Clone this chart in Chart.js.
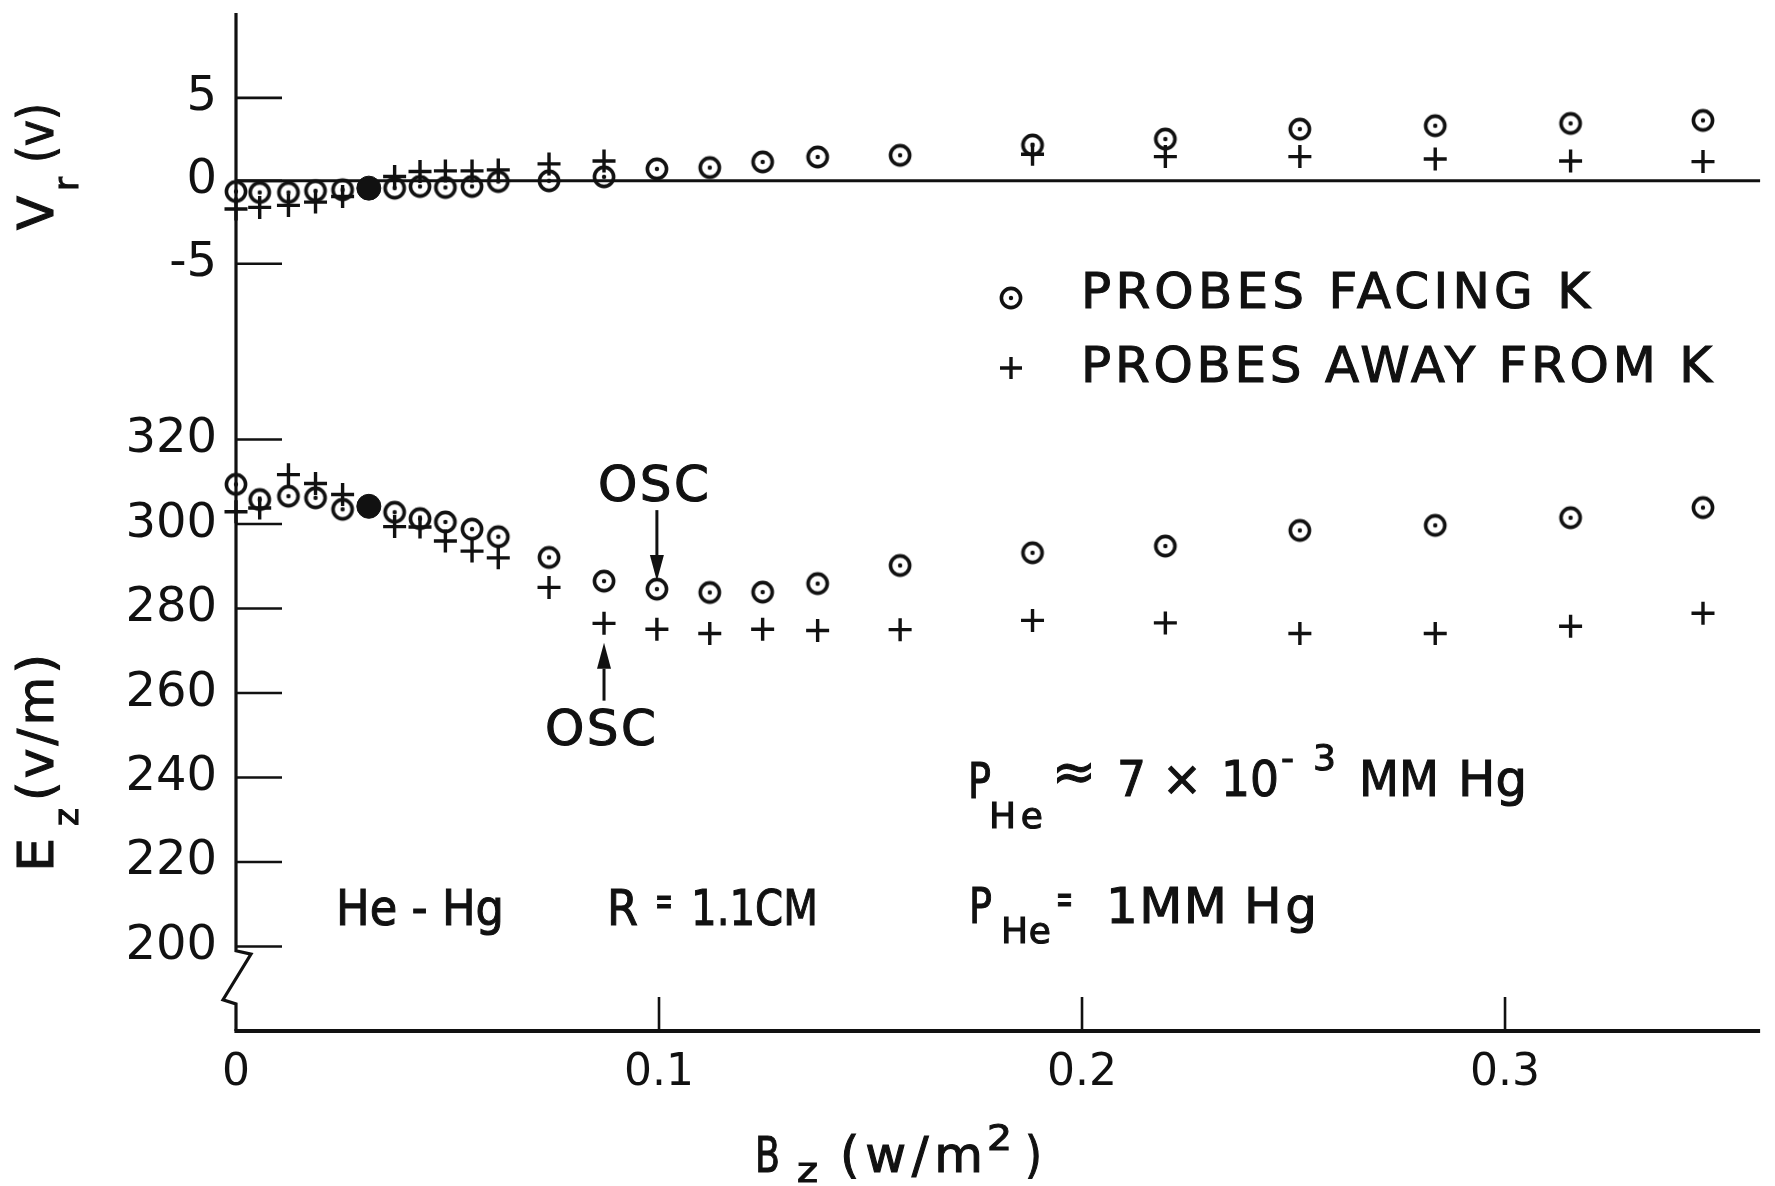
<!DOCTYPE html>
<html lang="en">
<head>
<meta charset="UTF-8">
<title>Vr and Ez versus Bz</title>
<script src="https://cdn.jsdelivr.net/npm/chart.js"></script>
<style>
  body { margin: 0; background: #fff; }
  #wrap { width: 1775px; height: 1186px; }
</style>
</head>
<body>
<div id="wrap"><canvas id="chart" width="1775" height="1186"></canvas></div>
<script>
// B_z (w/m^2) of every reading, shared by both panels
const bField = [0, 0.0056, 0.0124, 0.0188, 0.0252, 0.0314, 0.0375, 0.0435, 0.0495, 0.0558, 0.062, 0.074,
                0.087, 0.0995, 0.112, 0.1245, 0.1375, 0.157, 0.1883, 0.2197, 0.2515, 0.2835, 0.3155, 0.3468];
// V_r (v)
const vrFacing = [-0.64, -0.70, -0.70, -0.60, -0.54, -0.44, -0.44, -0.34, -0.40, -0.34, -0.04, 0.00,
                  0.24, 0.72, 0.80, 1.14, 1.44, 1.54, 2.16, 2.52, 3.12, 3.32, 3.46, 3.64];
const vrAway = [-1.70, -1.60, -1.48, -1.28, -0.94, -0.44, 0.26, 0.56, 0.60, 0.60, 0.66, 1.02,
                1.20, null, null, null, null, null, 1.60, 1.46, 1.46, 1.32, 1.20, 1.16];
// E_z (v/m)
const ezFacing = [309.4, 305.8, 306.6, 306.2, 303.5, 304.2, 302.8, 301.3, 300.5, 298.8, 297.0, 292.1,
                  286.5, 284.6, 283.8, 283.9, 285.9, 290.2, 293.2, 294.8, 298.5, 299.7, 301.5, 303.9];
const ezAway = [302.9, 303.8, 311.7, 309.6, 307.0, 304.2, 299.4, 299.3, 296.0, 293.6, 292.0, 285.0,
                276.5, 275.1, 274.1, 275.1, 274.8, 275.0, 277.2, 276.6, 274.1, 274.1, 275.8, 278.9];

const xTicks = [0, 0.1, 0.2, 0.3];
const vrTicks = [-5, 0, 5];
const ezTicks = [200, 220, 240, 260, 280, 300, 320];
const FILLED = 5;   // the blacked-in reading at B = 0.031

// OSC arrows (value coords in the E_z panel)
const oscMarks = [
  { x: 0.0995, label: 305.4, from: 303.3, to: 286.5 },
  { x: 0.087, label: 247.6, from: 258.2, to: 271.9 }
];

const FONT = '"DejaVu Sans", sans-serif';
const INK = '#111';

function makeODot() {
  const c = document.createElement('canvas');
  c.width = c.height = 28;
  const g = c.getContext('2d');
  g.strokeStyle = INK;
  g.lineWidth = 3.6;
  g.beginPath(); g.arc(14, 14, 9.6, 0, Math.PI * 2); g.stroke();
  g.fillStyle = INK;
  g.beginPath(); g.arc(14, 14, 2.2, 0, Math.PI * 2); g.fill();
  return c;
}
const odot = makeODot();

function pts(ys) {
  return bField.map((x, i) => ({ x, y: ys[i] })).filter(p => p.y !== null);
}

// draw text squeezed or spread to a given width, slightly heavier like the lettering
function fitText(ctx, text, x, y, width, size) {
  ctx.font = size + 'px ' + FONT;
  ctx.letterSpacing = '0px';
  const w = ctx.measureText(text).width;
  ctx.save();
  ctx.translate(x, y);
  if (w > width || text.length < 2) {
    ctx.scale(width / w, 1);
  } else {
    ctx.letterSpacing = ((width - w) / (text.length - 1)) + 'px';
  }
  ctx.lineWidth = 1.1;
  ctx.fillText(text, 0, 0);
  ctx.strokeText(text, 0, 0);
  ctx.restore();
  ctx.letterSpacing = '0px';
}

function arrow(ctx, x, y1, y2) {
  const dir = Math.sign(y2 - y1), head = 26, half = 7;
  ctx.lineWidth = 3;
  ctx.beginPath(); ctx.moveTo(x, y1); ctx.lineTo(x, y2 - dir * head); ctx.stroke();
  ctx.beginPath();
  ctx.moveTo(x, y2);
  ctx.lineTo(x - half, y2 - dir * head);
  ctx.lineTo(x + half, y2 - dir * head);
  ctx.closePath();
  ctx.fill();
}

// stop the axes from reserving room for labels at the plot edges
function noEdgePad(s) {
  s.paddingTop = 0; s.paddingBottom = 0; s.paddingLeft = 0; s.paddingRight = 0;
}

const frame = {
  id: 'frame',
  beforeDatasetsDraw(chart) {
    const { ctx, chartArea: a } = chart;
    const { x, yTop, yBot } = chart.scales;
    const x0 = x.getPixelForValue(0);
    ctx.save();
    ctx.strokeStyle = INK;

    // vertical axis with the break under 200
    ctx.lineWidth = 3.2;
    ctx.beginPath();
    ctx.moveTo(x0, a.top - 2);
    ctx.lineTo(x0, yBot.getPixelForValue(199));
    ctx.lineTo(x0 + 15, yBot.getPixelForValue(198.2));
    ctx.lineTo(x0 - 13, yBot.getPixelForValue(187.4));
    ctx.lineTo(x0, yBot.getPixelForValue(186.4));
    ctx.lineTo(x0, a.bottom);
    ctx.stroke();

    // B axis
    ctx.lineWidth = 4;
    ctx.beginPath(); ctx.moveTo(x0 - 1.6, a.bottom); ctx.lineTo(a.right, a.bottom); ctx.stroke();

    // zero line of the V_r panel
    ctx.lineWidth = 3;
    const y0 = yTop.getPixelForValue(0);
    ctx.beginPath(); ctx.moveTo(x0, y0); ctx.lineTo(a.right, y0); ctx.stroke();

    // ticks point inward
    ctx.lineWidth = 2.6;
    vrTicks.forEach(v => {
      const py = yTop.getPixelForValue(v);
      ctx.beginPath(); ctx.moveTo(x0, py); ctx.lineTo(x0 + 46, py); ctx.stroke();
    });
    ezTicks.forEach(v => {
      const py = yBot.getPixelForValue(v);
      ctx.beginPath(); ctx.moveTo(x0, py); ctx.lineTo(x0 + 46, py); ctx.stroke();
    });
    xTicks.filter(v => v > 0).forEach(v => {
      const px = x.getPixelForValue(v);
      ctx.beginPath(); ctx.moveTo(px, a.bottom); ctx.lineTo(px, a.bottom - 34); ctx.stroke();
    });
    ctx.restore();
  },
  afterDraw(chart) {
    const { ctx } = chart;
    const { x, yBot } = chart.scales;
    ctx.save();
    ctx.fillStyle = INK;
    ctx.strokeStyle = INK;
    ctx.textBaseline = 'alphabetic';

    // axis titles
    ctx.save();
    ctx.translate(53, 230);
    ctx.rotate(-Math.PI / 2);
    fitText(ctx, 'V', 0, 0, 34, 50);
    fitText(ctx, 'r', 39, 25, 14, 34);
    fitText(ctx, '(v)', 67, 0, 60, 50);
    ctx.restore();

    ctx.save();
    ctx.translate(53, 872);
    ctx.rotate(-Math.PI / 2);
    fitText(ctx, 'E', 0, 0, 34, 50);
    fitText(ctx, 'z', 46, 25, 18, 34);
    fitText(ctx, '(v/m)', 71, 0, 147, 50);
    ctx.restore();

    fitText(ctx, 'B', 755, 1172, 25, 50);
    fitText(ctx, 'z', 797, 1182, 21, 34);
    fitText(ctx, '(w/m', 840, 1172, 143, 50);
    fitText(ctx, '2', 987, 1150, 25, 36);
    fitText(ctx, ')', 1025, 1172, 17, 50);

    // legend
    ctx.drawImage(odot, 1011 - 14, 298 - 14);
    fitText(ctx, 'PROBES FACING K', 1081, 308, 509, 50);
    ctx.lineWidth = 3.4;
    ctx.beginPath();
    ctx.moveTo(1000, 368); ctx.lineTo(1022, 368);
    ctx.moveTo(1011, 357); ctx.lineTo(1011, 379);
    ctx.stroke();
    fitText(ctx, 'PROBES AWAY FROM K', 1081, 382, 631, 50);

    // OSC marks
    oscMarks.forEach(m => {
      const px = x.getPixelForValue(m.x);
      arrow(ctx, px, yBot.getPixelForValue(m.from), yBot.getPixelForValue(m.to));
      fitText(ctx, 'OSC', px - 59, yBot.getPixelForValue(m.label), 111, 50);
    });

    // run conditions
    fitText(ctx, 'P', 968, 798, 23, 50);
    fitText(ctx, 'He', 989, 828, 54, 36);
    fitText(ctx, '\u2248', 1052, 790, 44, 54);
    fitText(ctx, '7', 1117, 796, 29, 50);
    fitText(ctx, '\u00d7', 1162, 795, 40, 48);
    fitText(ctx, '10', 1221, 796, 58, 50);
    fitText(ctx, '-3', 1281, 770, 55, 36);
    fitText(ctx, 'MM', 1359, 796, 80, 50);
    fitText(ctx, 'Hg', 1458, 796, 69, 50);

    fitText(ctx, 'P', 969, 923, 23, 50);
    fitText(ctx, 'He', 1001, 943, 50, 36);
    fitText(ctx, '=', 1056, 913, 17, 42);
    fitText(ctx, '1MM', 1106, 923, 121, 50);
    fitText(ctx, 'Hg', 1244, 923, 73, 50);

    fitText(ctx, 'He - Hg', 336, 925, 168, 50);
    fitText(ctx, 'R', 607, 925, 31, 50);
    fitText(ctx, '=', 655, 915, 18, 42);
    fitText(ctx, '1.1CM', 691, 925, 127, 50);
    ctx.restore();
  }
};

const facingStyle = {
  pointStyle: c => c.dataIndex === FILLED ? 'circle' : odot,
  pointRadius: c => c.dataIndex === FILLED ? 12 : 10,
  pointBackgroundColor: INK,
  pointBorderColor: INK,
  pointBorderWidth: 1,
  clip: false
};
const awayStyle = {
  pointStyle: 'cross',
  pointRadius: 11.5,
  pointBorderWidth: 3.4,
  pointBorderColor: INK,
  clip: false
};

const tickFont = { family: FONT, size: 48 };

new Chart(document.getElementById('chart'), {
  type: 'scatter',
  data: {
    datasets: [
      { label: 'PROBES FACING K', data: pts(vrFacing), yAxisID: 'yTop', ...facingStyle },
      { label: 'PROBES FACING K', data: pts(ezFacing), yAxisID: 'yBot', ...facingStyle },
      { label: 'PROBES AWAY FROM K', data: pts(vrAway), yAxisID: 'yTop', ...awayStyle },
      { label: 'PROBES AWAY FROM K', data: pts(ezAway), yAxisID: 'yBot', ...awayStyle }
    ]
  },
  options: {
    responsive: false,
    animation: false,
    devicePixelRatio: 1,
    layout: { padding: { top: 13, right: 4, left: 0, bottom: 0 } },
    plugins: { legend: { display: false }, tooltip: { enabled: false } },
    scales: {
      x: {
        type: 'linear', min: 0, max: 0.3603,
        afterBuildTicks: s => { s.ticks = xTicks.map(v => ({ value: v })); },
        afterFit: s => { s.height = 155; noEdgePad(s); },
        grid: { display: false, drawTicks: false },
        border: { display: false },
        ticks: {
          font: { family: FONT, size: 44 }, color: INK, padding: 16,
          maxRotation: 0, autoSkip: false,
          callback: v => v === 0 ? '0' : v.toFixed(1)
        }
      },
      yBot: {
        type: 'linear', position: 'left', stack: 'panels', stackWeight: 1.987,
        min: 180, max: 340,
        afterBuildTicks: s => { s.ticks = ezTicks.map(v => ({ value: v })); },
        afterFit: s => { s.width = 236; noEdgePad(s); },
        grid: { display: false, drawTicks: false },
        border: { display: false },
        ticks: { font: tickFont, color: INK, padding: 19, autoSkip: false, callback: v => String(v) }
      },
      yTop: {
        type: 'linear', position: 'left', stack: 'panels', stackWeight: 1,
        min: -10.5, max: 10,
        afterBuildTicks: s => { s.ticks = vrTicks.map(v => ({ value: v })); },
        afterFit: s => { s.width = 236; noEdgePad(s); },
        grid: { display: false, drawTicks: false },
        border: { display: false },
        ticks: { font: tickFont, color: INK, padding: 19, autoSkip: false, callback: v => String(v) }
      }
    }
  },
  plugins: [frame]
});
</script>
</body>
</html>
